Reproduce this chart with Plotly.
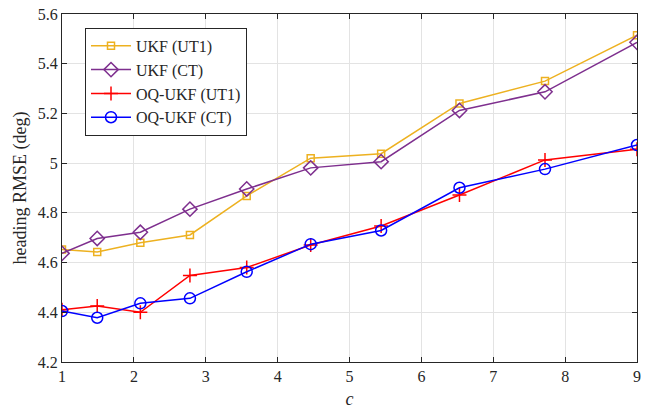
import plotly.graph_objects as go

c_vals = [1.0, 1.49, 2.09, 2.78, 3.57, 4.46, 5.44, 6.53, 7.72, 9.0]
ukf_ut1 = [4.653, 4.643, 4.680, 4.711, 4.868, 5.020, 5.038, 5.240, 5.330, 5.515]
ukf_ct = [4.637, 4.697, 4.722, 4.815, 4.896, 4.981, 5.006, 5.212, 5.287, 5.486]
oq_ut1 = [4.410, 4.425, 4.400, 4.548, 4.580, 4.671, 4.747, 4.872, 5.013, 5.056]
oq_ct = [4.405, 4.378, 4.436, 4.456, 4.563, 4.674, 4.729, 4.901, 4.976, 5.073]
names = ["UKF (UT1)", "UKF (CT)", "OQ-UKF (UT1)", "OQ-UKF (CT)"]
x_ticks = [1, 2, 3, 4, 5, 6, 7, 8, 9]
y_ticks = [4.2, 4.4, 4.6, 4.8, 5.0, 5.2, 5.4, 5.6]
y_ticktext = ["4.2", "4.4", "4.6", "4.8", "5", "5.2", "5.4", "5.6"]

FONT = "Liberation Serif"
fig = go.Figure()
fig.add_trace(go.Scatter(x=c_vals, y=ukf_ut1, name=names[0], mode="lines+markers",
                         line=dict(color="#EDB120", width=1.5),
                         marker=dict(symbol="square-open", size=7, color="#EDB120", line=dict(width=1.5))))
fig.add_trace(go.Scatter(x=c_vals, y=ukf_ct, name=names[1], mode="lines+markers",
                         line=dict(color="#7E2F8E", width=1.5),
                         marker=dict(symbol="diamond-open", size=11, color="#7E2F8E", line=dict(width=1.5))))
fig.add_trace(go.Scatter(x=c_vals, y=oq_ut1, name=names[2], mode="lines+markers",
                         line=dict(color="#FF0000", width=1.5),
                         marker=dict(symbol="cross-thin", size=10, color="#FF0000", line=dict(width=1.5, color="#FF0000"))))
fig.add_trace(go.Scatter(x=c_vals, y=oq_ct, name=names[3], mode="lines+markers",
                         line=dict(color="#0000FF", width=1.5),
                         marker=dict(symbol="circle-open", size=11, color="#0000FF", line=dict(width=1.5))))

axis_common = dict(showgrid=True, gridcolor="#e3e3e3", gridwidth=1, zeroline=False,
                   showline=True, linecolor="#262626", linewidth=1, mirror="ticks",
                   ticks="inside", ticklen=5, tickcolor="#262626",
                   tickfont=dict(family=FONT, size=16, color="#262626"))
fig.update_xaxes(range=[1, 9], tickvals=x_ticks, ticktext=[str(t) for t in x_ticks],
                 title=dict(text="<i>c</i>", font=dict(family=FONT, size=18, color="#262626"), standoff=8),
                 **axis_common)
fig.update_yaxes(range=[4.2, 5.6], tickvals=y_ticks, ticktext=y_ticktext,
                 title=dict(text="heading RMSE (deg)", font=dict(family=FONT, size=18, color="#262626"), standoff=6),
                 **axis_common)
fig.update_layout(width=647, height=415, margin=dict(l=62, r=6, t=14, b=53),
                  plot_bgcolor="white", paper_bgcolor="white",
                  font=dict(family=FONT, color="#262626"),
                  legend=dict(x=0.04, y=0.96, xanchor="left", yanchor="top",
                              bgcolor="white", bordercolor="#262626", borderwidth=1,
                              font=dict(family=FONT, size=16, color="#262626"),
                              tracegroupgap=0, itemwidth=40))
fig.write_html("out.html")
